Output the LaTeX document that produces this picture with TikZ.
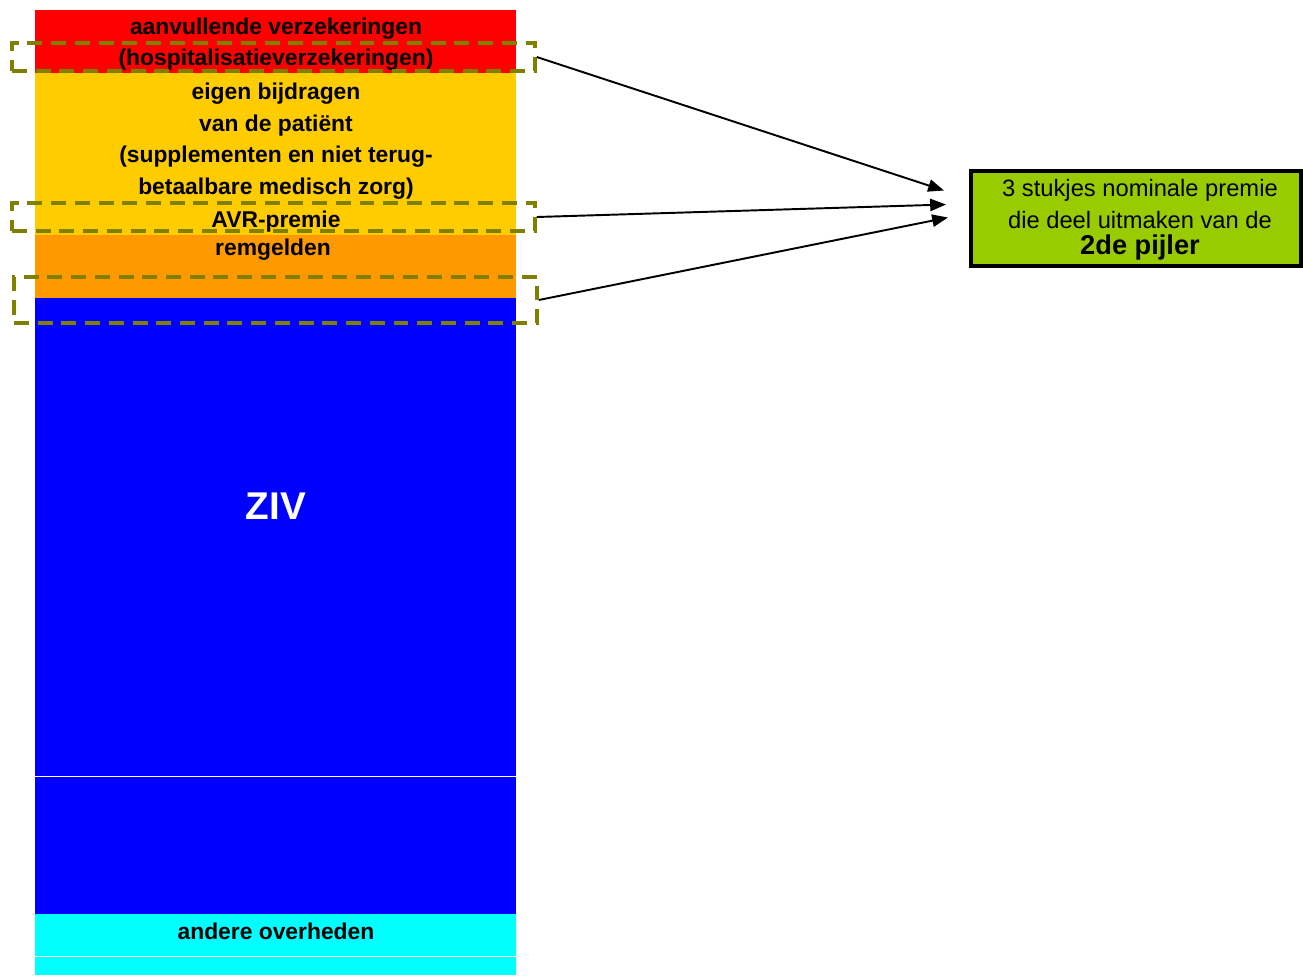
\documentclass[tikz,border=0pt]{standalone}
\usepackage{fontspec}
\setmainfont{Liberation Sans}
\usetikzlibrary{arrows.meta,fit}
\definecolor{geel}{HTML}{FFCC00}
\definecolor{oranje}{HTML}{FF9900}
\definecolor{groen}{HTML}{99CC00}
\definecolor{olijf}{HTML}{808000}
\definecolor{ziv}{HTML}{0000FF}
\definecolor{turkoois}{HTML}{00FFFF}
\definecolor{rood}{HTML}{FF0000}
\begin{document}
\begin{tikzpicture}[x=0.02cm,y=-0.02cm,
    band/.style={font=\fontsize{13}{18}\selectfont\bfseries,align=center},
    kader/.style={draw=olijf,line width=2pt,dash pattern=on 8.5pt off 5pt,inner sep=0pt},
    pijl/.style={-{Triangle[length=9pt,width=7pt]},line width=1.1pt}]
  \useasboundingbox (0,0) rectangle (1303,975);
  % kolom
  \fill[rood] (35,10) rectangle (516,73);
  \fill[geel] (35,73) rectangle (516,235);
  \fill[oranje] (35,235) rectangle (516,298);
  \fill[ziv] (35,298) rectangle (516,914);
  \fill[turkoois] (35,914) rectangle (516,975);
  \draw[white] (35,776) -- (516,776);
  \draw[white] (35,956) -- (516,956);
  % teksten in de kolom
  \node[band] (aanvullend) at (276,44) {aanvullende verzekeringen\\(hospitalisatieverzekeringen)};
  \node[band] (eigen) at (276,141) {eigen bijdragen\\van de patiënt\\(supplementen en niet terug-\\betaalbare medisch zorg)};
  \node[band] (avr) at (276,222) {AVR-premie};
  \node[band] (rem) at (273,250) {remgelden};
  \node[band,white,font=\fontsize{22}{26}\selectfont\bfseries] (ziv) at (276,506) {ZIV};
  \node[band] (overheden) at (276,931) {andere overheden};
  % kaders
  \node[kader,fit={(12,43) (535,71)}] (k1) {};
  \node[kader,fit={(12,203) (535,231)}] (k2) {};
  \node[kader,fit={(14,277) (537,323)}] (k3) {};
  % tweede pijler
  \node[fill=groen,draw=black,line width=2.3pt,inner sep=0pt,fit={(971,171) (1301,266)}] (pijler) {};
  \node[align=center,font=\fontsize{13.5}{18}\selectfont] (pijlertxt) at (1140,220)
    {3 stukjes nominale premie\\die deel uitmaken van de\\[-3pt]{\fontsize{15.5}{18}\selectfont\bfseries 2de pijler}};
  \draw[pijl] (k1.east) -- ([xshift=-0.5cm,yshift=0.56cm]pijler.west);
  \draw[pijl] (k2.east) -- ([xshift=-0.46cm,yshift=0.28cm]pijler.west);
  \draw[pijl] (k3.east) -- ([xshift=-0.42cm,yshift=0.02cm]pijler.west);
\end{tikzpicture}
\end{document}
